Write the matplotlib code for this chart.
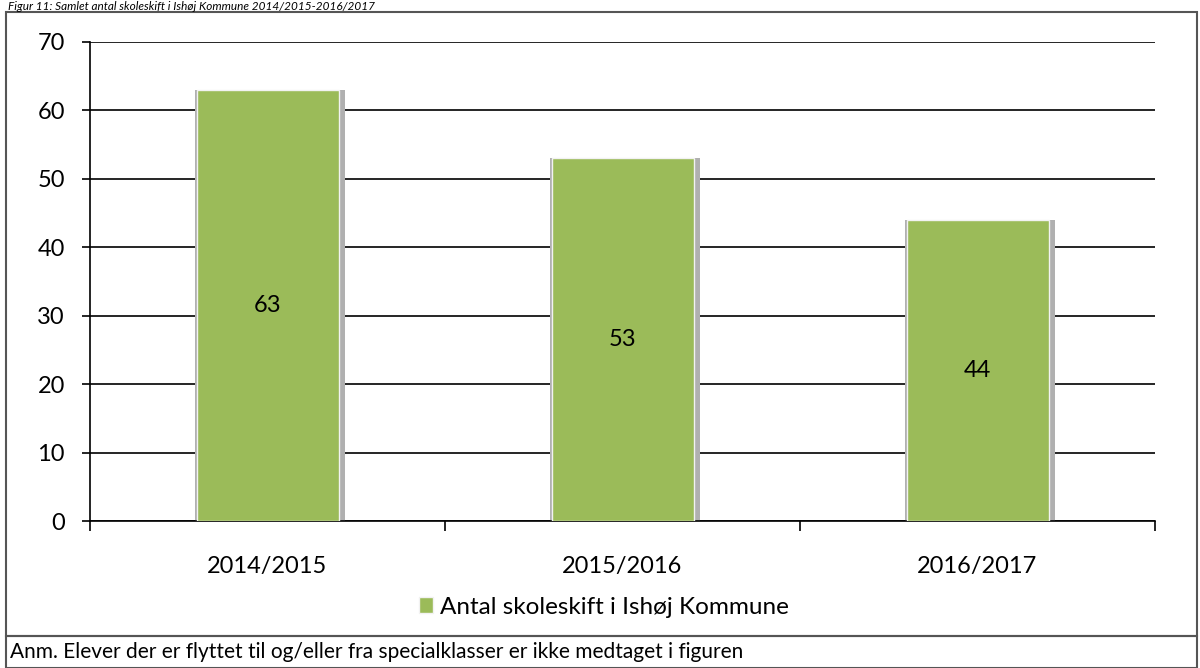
import matplotlib
matplotlib.use("Agg")
import matplotlib.pyplot as plt
from matplotlib.patches import Rectangle

categories = ["2014/2015", "2015/2016", "2016/2017"]
values = [63, 53, 44]
series_name = "Antal skoleskift i Ishøj Kommune"
title = "Figur 11: Samlet antal skoleskift i Ishøj Kommune 2014/2015-2016/2017"
note = "Anm. Elever der er flyttet til og/eller fra specialklasser er ikke medtaget i figuren"
yticks = [0, 10, 20, 30, 40, 50, 60, 70]

plt.rcParams['font.family'] = ['Lato', 'DejaVu Sans']

W, H = 1200, 668
fig = plt.figure(figsize=(12, 6.68), dpi=100)

def fx(px):
    return px / W

def fy(py):
    return 1 - py / H

FS = 17

# Outer frames
fig.add_artist(Rectangle((fx(6), fy(636)), fx(1197) - fx(6), fy(12) - fy(636),
                         transform=fig.transFigure, fill=False, edgecolor="#555555", lw=1.5))
fig.add_artist(Rectangle((fx(6), fy(668)), fx(1197) - fx(6), fy(636) - fy(668),
                         transform=fig.transFigure, fill=False, edgecolor="#555555", lw=1.5))

# Title
fig.text(fx(8), fy(0.5), title, fontsize=8.5, style="italic", ha="left", va="top", color="black")

ax = fig.add_axes([fx(90), fy(521), fx(1155) - fx(90), fy(42) - fy(521)])
x = list(range(len(categories)))
bw = 0.4
# shadows
ax.bar([i + 0.008 for i in x], values, width=bw + 0.022, color="#b0b0b0", zorder=2)
bars = ax.bar(x, values, width=bw, color="#9bbb59", edgecolor="#f2f2f2", linewidth=1.0, zorder=3,
              label=series_name)
for i, v in zip(x, values):
    ax.text(i, v / 2, str(v), ha="center", va="center", fontsize=FS, zorder=4)

ax.set_xlim(-0.5, len(categories) - 0.5)
ax.set_ylim(0, 70)
ax.set_yticks(yticks)
ax.set_yticklabels([str(t) for t in yticks], fontsize=FS)
ax.yaxis.grid(True, color="black", lw=1.2, zorder=1)
ax.set_axisbelow(True)
ax.set_xticks(x)
ax.set_xticklabels(categories, fontsize=FS)
ax.tick_params(axis="x", length=0, pad=25)
ax.tick_params(axis="y", length=6, width=1.2, direction="out", pad=12)
ax.set_xticks([-0.5, 0.5, 1.5, 2.5], minor=True)
ax.tick_params(axis="x", which="minor", length=7, width=1.2, direction="out")
for s in ["top", "right"]:
    ax.spines[s].set_visible(False)
ax.spines["left"].set_linewidth(1.2)
ax.spines["bottom"].set_linewidth(1.2)

fig.legend(handles=[bars], labels=[series_name], loc="center",
           bbox_to_anchor=(fx(604), fy(607)), frameon=False, fontsize=FS + 0.5,
           handlelength=0.6, handleheight=0.6, handletextpad=0.3)

fig.text(fx(10), fy(652), note, fontsize=15, ha="left", va="center")

fig.savefig("out.png", dpi=100)
